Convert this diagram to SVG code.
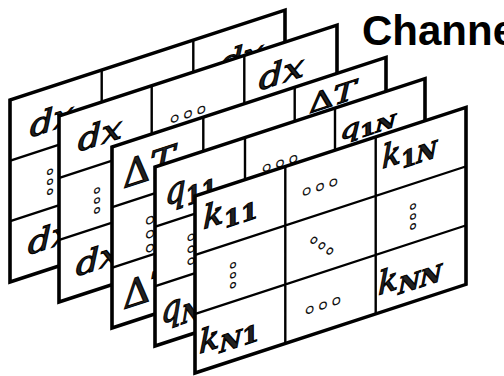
<svg xmlns="http://www.w3.org/2000/svg" width="504" height="376" viewBox="0 0 504 376">
  <style>
    .frame { fill: #fff; stroke: #000; stroke-width: 3.6; stroke-linejoin: miter; }
    .grid { stroke: #000; stroke-width: 2.4; fill: none; }
    .var { font-family: "DejaVu Serif", "Liberation Serif", serif; font-style: italic; fill: #222; stroke: #000; stroke-width: 1.1; }
    .sub { font-weight: bold; font-style: normal; }
    .subi { font-weight: bold; font-style: italic; }
    .up { font-style: normal; }
    .dots { font-family: "Noto Sans CJK JP", "DejaVu Sans", sans-serif; font-weight: bold; fill: #fff; stroke: #111; stroke-width: 1.3; text-anchor: middle; dominant-baseline: central; }
    .title { font-family: "Liberation Sans", Arial, sans-serif; font-weight: bold; font-size: 42px; fill: #000; }
  </style>

  <text class="title" x="362" y="45">Channe</text>

  <!-- back layer: dx -->
  <g id="layer-dx-back" transform="matrix(1,-0.327,0,1,10,100)">
    <rect class="frame" x="0" y="0" width="275" height="182"/>
    <path class="grid" d="M91.7 0V182M183.3 0V182M0 60.7H275M0 121.3H275"/>
    <text class="var" x="20" y="44" font-size="31" textLength="44" lengthAdjust="spacingAndGlyphs">dx</text>
    <text class="dots" x="130" y="33" font-size="40">⋯</text>
    <text class="var" x="210" y="44" font-size="31" textLength="44" lengthAdjust="spacingAndGlyphs">dx</text>
    <text class="dots" x="40" y="93" font-size="30">︙</text>
    <text class="var" x="18" y="161" font-size="31" textLength="44" lengthAdjust="spacingAndGlyphs">dx</text>
  </g>

  <!-- layer: dx -->
  <g id="layer-dx" transform="matrix(1,-0.327,0,1,59,116)">
    <rect class="frame" x="0" y="0" width="278" height="186"/>
    <path class="grid" d="M92.7 0V186M185.3 0V186M0 62H278M0 124H278"/>
    <text class="var" x="19" y="42" font-size="31" textLength="44" lengthAdjust="spacingAndGlyphs">dx</text>
    <text class="dots" x="129" y="38" font-size="40">⋯</text>
    <text class="var" x="200" y="40" font-size="31" textLength="45" lengthAdjust="spacingAndGlyphs">dx</text>
    <text class="dots" x="38" y="95" font-size="30">︙</text>
    <text class="var" x="17" y="166" font-size="31" textLength="44" lengthAdjust="spacingAndGlyphs">dx</text>
  </g>

  <!-- layer: ΔT -->
  <g id="layer-dT" transform="matrix(1,-0.327,0,1,112,147)">
    <rect class="frame" x="0" y="0" width="274" height="181"/>
    <path class="grid" d="M91.3 0V181M182.7 0V181M0 60.3H274M0 120.7H274"/>
    <text class="var" x="11" y="45" font-size="38" textLength="52" lengthAdjust="spacingAndGlyphs"><tspan class="up">Δ</tspan>T</text>
    <text class="dots" x="125" y="37" font-size="40">⋯</text>
    <text class="var" x="197" y="31" font-size="26" textLength="47" lengthAdjust="spacingAndGlyphs"><tspan class="up">Δ</tspan>T</text>
    <text class="dots" x="38" y="97" font-size="42">︙</text>
    <text class="var" x="11" y="166" font-size="38" textLength="52" lengthAdjust="spacingAndGlyphs"><tspan class="up">Δ</tspan>T</text>
  </g>

  <!-- layer: q -->
  <g id="layer-q" transform="matrix(1,-0.327,0,1,155,167)">
    <rect class="frame" x="0" y="0" width="270" height="179"/>
    <path class="grid" d="M90 0V179M180 0V179M0 59.7H270M0 119.3H270"/>
    <text class="var" x="10" y="42" font-size="36" textLength="52" lengthAdjust="spacingAndGlyphs">q<tspan class="sub" font-size="25" dy="7">11</tspan></text>
    <text class="dots" x="125" y="35" font-size="40">⋯</text>
    <text class="var" x="185" y="34" font-size="24" textLength="56" lengthAdjust="spacingAndGlyphs">q<tspan class="sub" font-size="17" dy="4">1</tspan><tspan class="subi" font-size="17">N</tspan></text>
    <text class="dots" x="36" y="92" font-size="36">︙</text>
    <text class="var" x="6" y="159" font-size="36" textLength="56" lengthAdjust="spacingAndGlyphs">q<tspan class="subi" font-size="25" dy="7">N</tspan><tspan class="sub" font-size="25">1</tspan></text>
  </g>

  <!-- front layer: k -->
  <g id="layer-k" transform="matrix(1,-0.327,0,1,195,196)">
    <rect class="frame" x="0" y="0" width="271" height="177"/>
    <path class="grid" d="M90.3 0V177M180.7 0V177M0 59H271M0 118H271"/>
    <text class="var" x="8" y="36" font-size="32" textLength="55" lengthAdjust="spacingAndGlyphs">k<tspan class="sub" font-size="23" dy="6">11</tspan></text>
    <text class="dots" x="125" y="29.5" font-size="40">⋯</text>
    <text class="var" x="187" y="34" font-size="32" textLength="55" lengthAdjust="spacingAndGlyphs">k<tspan class="sub" font-size="23" dy="6">1</tspan><tspan class="subi" font-size="23">N</tspan></text>
    <text class="dots" x="38" y="90" font-size="30">︙</text>
    <!-- diagonal ellipsis: midline ellipsis turned 45 degrees -->
    <text class="dots" x="128" y="90" font-size="34" transform="rotate(45 128 90)">⋯</text>
    <text class="dots" x="218" y="90" font-size="30">︙</text>
    <text class="var" x="4" y="159" font-size="32" textLength="60" lengthAdjust="spacingAndGlyphs">k<tspan class="subi" font-size="23" dy="6">N</tspan><tspan class="sub" font-size="23">1</tspan></text>
    <text class="dots" x="128" y="149" font-size="40">⋯</text>
    <text class="var" x="183" y="159" font-size="32" textLength="64" lengthAdjust="spacingAndGlyphs">k<tspan class="subi" font-size="23" dy="6">NN</tspan></text>
  </g>
</svg>
